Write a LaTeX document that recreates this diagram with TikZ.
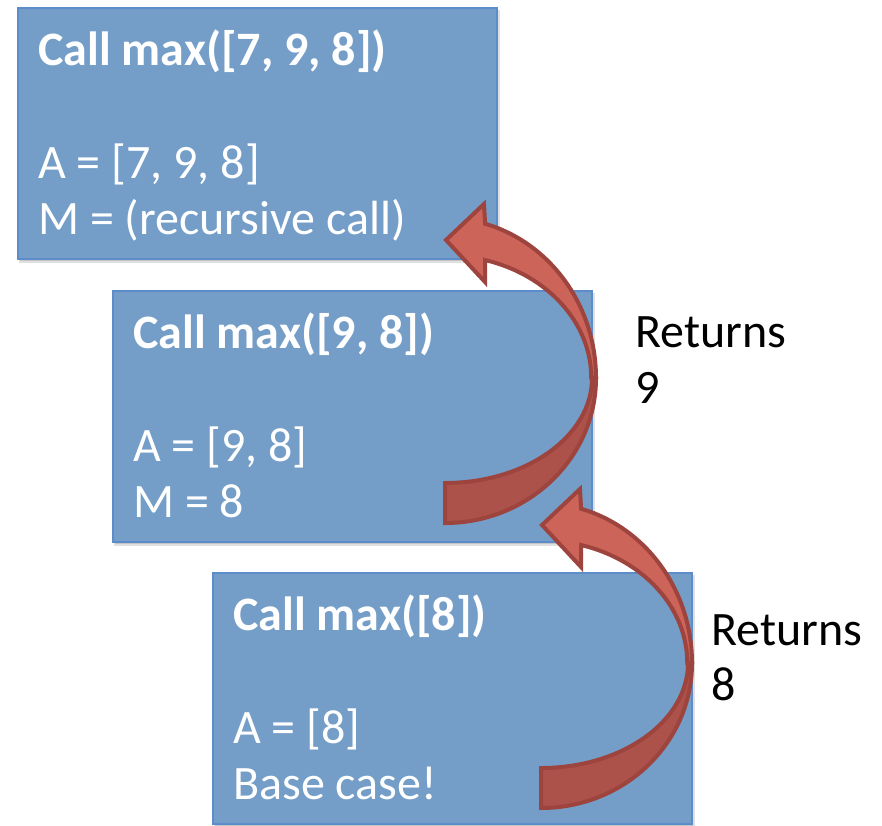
\documentclass[tikz,border=0pt]{standalone}
\usepackage{fontspec}
\setmainfont{Carlito}
\definecolor{boxfill}{HTML}{749EC8}
\definecolor{boxline}{HTML}{5C8DCA}
\definecolor{arrlight}{HTML}{CD6459}
\definecolor{arrdark}{HTML}{AC524B}
\definecolor{arrline}{HTML}{9E443E}
\tikzset{
  callbox/.style={draw=boxline, line width=1.5pt, fill=boxfill, rectangle,
    minimum width=479pt, minimum height=251pt, inner sep=0pt, anchor=north west},
  boxshadow/.style={fill=black, fill opacity=0.12},
  titletext/.style={anchor=base west, inner sep=0pt, text=white,
    font=\fontsize{48}{56}\selectfont\bfseries},
  bodytext/.style={anchor=base west, inner sep=0pt, text=white,
    font=\fontsize{48}{56}\selectfont},
  rettext/.style={anchor=base west, inner sep=0pt, text=black,
    font=\fontsize{48}{56}\selectfont},
  arrowpart/.style={draw=arrline, line width=4pt, line join=miter},
  pics/curvedarrow/.style={code={
    \path[arrowpart, fill=arrdark] (151,0)
      arc[start angle=0, end angle=-90, x radius=151pt, y radius=145pt]
      -- (0,105)
      arc[start angle=-90, end angle=0, x radius=147pt, y radius=105pt]
      -- cycle;
    \path[arrowpart, fill=arrlight] (151,0)
      arc[start angle=0, end angle=74.6, x radius=151pt, y radius=160pt]
      -- (39,-174) -- (1,-138) -- (40,-96) -- (40,-118)
      arc[start angle=74.2, end angle=0, x radius=146pt, y radius=122.5pt]
      -- cycle;
  }}
}
\begin{document}
\begin{tikzpicture}[x=1pt, y=-1pt]
\useasboundingbox (0,0) rectangle (882,825);
% shadows
\foreach \bx/\by in {17/7, 112/290, 212/572}{
  \fill[boxshadow] (\bx+2,\by+3) rectangle (\bx+483,\by+256);
  \fill[boxshadow] (\bx+3,\by+4) rectangle (\bx+481,\by+254);
}
% boxes
\node[callbox] (b1) at (17,7) {};
\node[callbox] (b2) at (112,290) {};
\node[callbox] (b3) at (212,572) {};
% box texts
\node[titletext] (t1) at (38,65) {Call max([7, 9, 8])};
\node[bodytext] (a1) at (38,178) {A = [7, 9, 8]};
\node[bodytext] (m1) at (38,234) {M = (recursive call)};
\node[titletext] (t2) at (133,348) {Call max([9, 8])};
\node[bodytext] (a2) at (133,461) {A = [9, 8]};
\node[bodytext] (m2) at (133,517) {M = 8};
\node[titletext] (t3) at (233,630) {Call max([8])};
\node[bodytext] (a3) at (233,743) {A = [8]};
\node[bodytext] (m3) at (233,799) {Base case!};
% return labels
\node[rettext] (r9a) at (635,347) {Returns};
\node[rettext] (r9b) at (635,403) {9};
\node[rettext] (r8a) at (711,645) {Returns};
\node[rettext] (r8b) at (711,700) {8};
% curved arrows
\coordinate (c1) at (445,378);
\coordinate (c2) at (541,663);
\pic at (c1) {curvedarrow};
\pic at (c2) {curvedarrow};
\end{tikzpicture}
\end{document}
